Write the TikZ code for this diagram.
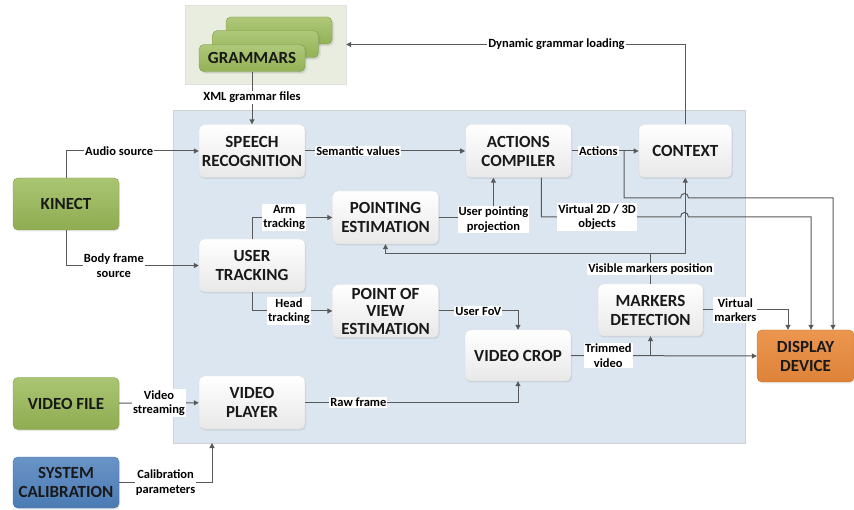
\documentclass[tikz,border=0pt]{standalone}
\usepackage{fontspec}
\setmainfont{Carlito}
\usepackage{tikz}
\usetikzlibrary{arrows.meta, positioning, shadows}
\definecolor{panelblue}{HTML}{DCE6F1}
\definecolor{gramfill}{HTML}{E9EDDF}
\definecolor{leafgreen}{HTML}{9BBB59}
\definecolor{calblue}{HTML}{4F81BD}
\definecolor{outorange}{HTML}{E98A3C}
\definecolor{wire}{HTML}{595959}
\tikzset{
  procbox/.style={rectangle, rounded corners=5pt, draw=black!15, top color=white,
                  bottom color=black!9, minimum width=106pt, minimum height=53pt,
                  align=center, inner sep=1pt, text=black!90,
                  font=\fontsize{17}{19}\selectfont\bfseries,
                  drop shadow={opacity=0.18, shadow xshift=1pt, shadow yshift=-1.5pt}},
  srcbox/.style={procbox, draw=leafgreen!85!black, top color=leafgreen!85,
                 bottom color=leafgreen!92!black, minimum height=52pt},
  calbox/.style={procbox, draw=calblue!85!black, top color=calblue!85,
                 bottom color=calblue!95!black, minimum height=51pt},
  outbox/.style={procbox, draw=outorange!85!black, top color=outorange!90,
                 bottom color=outorange!95!black, minimum width=97pt, minimum height=52pt},
  gramsheet/.style={procbox, draw=leafgreen!80!black, top color=leafgreen!80,
                    bottom color=leafgreen!95!black, minimum width=106pt,
                    minimum height=27pt, drop shadow={opacity=0.12}},
  panel/.style={rectangle, draw=black!18, fill=panelblue},
  gramarea/.style={rectangle, draw=black!12, fill=gramfill},
  lbl/.style={fill=white, inner sep=1pt, align=center, text=black,
              font=\fontsize{12.5}{14.5}\selectfont\bfseries},
  wireline/.style={draw=wire, line width=1pt},
  arrow/.style={wireline, -{Triangle[length=5pt, width=5pt]}},
}
\begin{document}
\begin{tikzpicture}[x=1pt, y=-1pt]
  \useasboundingbox (0,0) rectangle (854,510);
  % backgrounds
  \node[panel, minimum width=572pt, minimum height=333pt] (core) at (459,276.5) {};
  \node[gramarea, minimum width=161pt, minimum height=79pt] (gramarea) at (265.5,44.5) {};
  \node[gramsheet] (sheet2) at (279,30.5) {};
  \node[gramsheet] (sheet1) at (265.5,44) {};
  \node[gramsheet] (gram) at (252,58) {GRAMMARS};
  % processing blocks
  \node[procbox] (speech) at (252,151) {SPEECH\\RECOGNITION};
  \node[procbox, right=160pt of speech] (actions) {ACTIONS\\COMPILER};
  \node[procbox, right=67pt of actions, minimum width=93pt] (ctx) {CONTEXT};
  \node[procbox] (point) at (385.5,217.5) {POINTING\\ESTIMATION};
  \node[procbox] (track) at (252,265.5) {USER\\TRACKING};
  \node[procbox, font=\fontsize{17}{17.5}\selectfont\bfseries] (pov) at (385.5,311) {POINT OF\\VIEW\\ESTIMATION};
  \node[procbox, minimum height=51pt] (crop) at (518,355.5) {VIDEO CROP};
  \node[procbox, minimum width=105pt, minimum height=52pt] (markers) at (650.5,310) {MARKERS\\DETECTION};
  \node[procbox] (player) at (252,402.5) {VIDEO\\PLAYER};
  % sources and sink
  \node[srcbox] (kinect) at (66,204) {KINECT};
  \node[srcbox] (vfile) at (66,403.5) {VIDEO FILE};
  \node[calbox] (calib) at (66,482.5) {SYSTEM\\CALIBRATION};
  \node[outbox] (display) at (805.5,356) {DISPLAY\\DEVICE};
  \coordinate (actsplit) at (624,151);
  \coordinate (vmk) at (650.5,254);
  \coordinate (calin) at (212,443);
  % connectors
  \draw[arrow] (gram.south) -- node[lbl, pos=0.49]{XML grammar files} (speech.north);
  \draw[arrow] (ctx.north) |- node[lbl, pos=0.69]{Dynamic grammar loading} (gramarea.east);
  \draw[arrow] (kinect.north) |- node[lbl, pos=0.70]{Audio source} (speech.west);
  \draw[arrow] (kinect.south) |- node[lbl, pos=0.68]{Body frame\\source} (track.west);
  \draw[arrow] (speech) -- node[lbl, pos=0.33]{Semantic values} (actions);
  \draw[arrow] (actions) -- node[lbl, pos=0.4]{Actions} (ctx);
  \draw[arrow] (track.north) |- node[lbl, pos=0.70]{Arm\\tracking} (point.west);
  \draw[arrow] (track.south) |- node[lbl, pos=0.73]{Head\\tracking} (pov.west);
  \draw[arrow] (point.east) -| node[lbl, pos=0.5, yshift=-2pt]{User pointing\\projection} ([xshift=-25pt]actions.south);
  \draw[arrow] (actsplit) |- (680.5,198) .. controls (680.5,192) and (688.5,192) .. (688.5,198)
               -| ([xshift=27.5pt]display.north);
  \draw[arrow] ([xshift=23pt]actions.south) |- node[lbl, pos=0.70]{Virtual 2D / 3D\\objects} (680.5,217)
               .. controls (680.5,211) and (688.5,211) .. (688.5,217) -| ([xshift=5.5pt]display.north);
  \draw[wireline] (markers.north) -- node[lbl]{Visible markers position} (vmk);
  \draw[arrow] (vmk) -| (point.south);
  \draw[arrow] (vmk) -| (ctx.south);
  \draw[arrow] (markers.east) -| node[lbl, pos=0.19]{Virtual\\markers} ([xshift=-17.5pt]display.north);
  \draw[arrow] (pov.east) -| node[lbl, pos=0.25]{User FoV} (crop.north);
  \draw[arrow] (player.east) -| node[lbl, pos=0.125]{Raw frame} (crop.south);
  \draw[arrow] (crop.east) -- node[lbl, pos=0.2]{Trimmed\\video} (display.west);
  \draw[arrow] (markers.south |- crop.east) -- (markers.south);
  \draw[arrow] (vfile) -- node[lbl]{Video\\streaming} (player);
  \draw[arrow] (calib.east) -| node[lbl, pos=0.25]{Calibration\\parameters} (calin);
\end{tikzpicture}
\end{document}
